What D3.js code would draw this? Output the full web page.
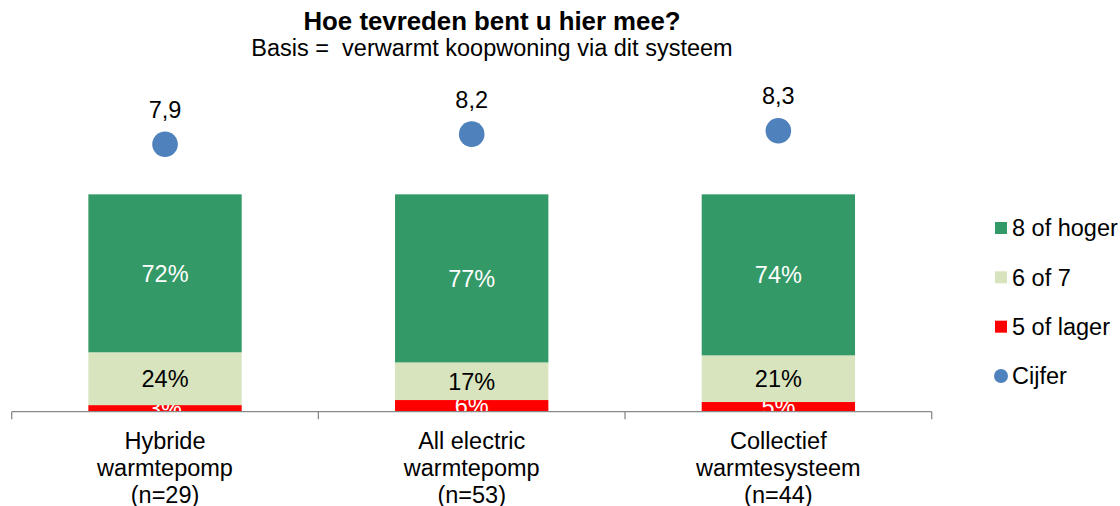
<!DOCTYPE html>
<html>
<head>
<meta charset="utf-8">
<script src="https://cdn.jsdelivr.net/npm/d3@7"></script>
<style>
  html, body { margin: 0; padding: 0; background: #ffffff; }
  svg { display: block; }
  text { font-family: "Liberation Sans", Arial, sans-serif; }
</style>
</head>
<body>
<svg id="chart" width="1120" height="506"></svg>
<script>
// ---- data ----
const categories = [
  ["Hybride", "warmtepomp", "(n=29)"],
  ["All electric", "warmtepomp", "(n=53)"],
  ["Collectief", "warmtesysteem", "(n=44)"]
];
const catKeys = ["hybride", "allelectric", "collectief"];
const seriesNames = ["5 of lager", "6 of 7", "8 of hoger"];
// segment values (%)
const lager5 = [3.0, 5.3, 4.4];
const zesZeven = [24.0, 17.1, 21.2];
const achtHoger = [71.8, 76.4, 73.2];
// printed data labels
const lager5Labels = ["3%", "6%", "5%"];
const zesZevenLabels = ["24%", "17%", "21%"];
const achtHogerLabels = ["72%", "77%", "74%"];
const cijfer = [7.9, 8.2, 8.3];
const cijferLabels = ["7,9", "8,2", "8,3"];
const legendLabels = ["8 of hoger", "6 of 7", "5 of lager", "Cijfer"];
const titleText = "Hoe tevreden bent u hier mee?";
const subtitleText = "Basis =  verwarmt koopwoning via dit systeem";

// ---- styles ----
const colors = { "5 of lager": "#ff0000", "6 of 7": "#d7e4bd", "8 of hoger": "#339966", "Cijfer": "#4f81bd" };
const labelColors = { "5 of lager": "#ffffff", "6 of 7": "#000000", "8 of hoger": "#ffffff" };
const labelSets = { "5 of lager": lager5Labels, "6 of 7": zesZevenLabels, "8 of hoger": achtHogerLabels };
const fs = 23.5;

const svg = d3.select("#chart");
const axisY = 411.7;

const x = d3.scaleBand().domain(catKeys).range([11.7, 931.7]).paddingInner(0).paddingOuter(0);
const y = d3.scaleLinear().domain([0, 100]).range([axisY, axisY - 220]);
const y2 = d3.scaleLinear().domain([0, 10]).range([axisY, axisY - 338.5]);

// title
svg.append("text").attr("x", 492).attr("y", 30).attr("text-anchor", "middle")
  .attr("font-size", 25.8).attr("font-weight", "bold").attr("fill", "#000").text(titleText);
svg.append("text").attr("x", 492).attr("y", 56).attr("text-anchor", "middle")
  .attr("font-size", fs).attr("fill", "#000").style("white-space", "pre").attr("xml:space", "preserve").text(subtitleText);

// stacked data
const rows = catKeys.map((k, i) => ({ key: k, idx: i, "5 of lager": lager5[i], "6 of 7": zesZeven[i], "8 of hoger": achtHoger[i] }));
const stack = d3.stack().keys(seriesNames)(rows);

const defs = svg.append("defs");
defs.append("clipPath").attr("id", "plotclip").append("rect")
  .attr("x", 0).attr("y", 0).attr("width", 1120).attr("height", axisY);

const bw = x.bandwidth() * 0.5;
const plot = svg.append("g").attr("clip-path", "url(#plotclip)");

stack.forEach(s => {
  const g = plot.append("g");
  g.selectAll("rect").data(s).join("rect")
    .attr("x", d => x(d.data.key) + (x.bandwidth() - bw) / 2)
    .attr("width", bw)
    .attr("y", d => y(d[1]))
    .attr("height", d => y(d[0]) - y(d[1]))
    .attr("fill", colors[s.key]);
  g.selectAll("text").data(s).join("text")
    .attr("x", d => x(d.data.key) + x.bandwidth() / 2)
    .attr("y", d => (y(d[0]) + y(d[1])) / 2 + 8.4)
    .attr("text-anchor", "middle")
    .attr("font-size", fs)
    .attr("fill", labelColors[s.key])
    .text(d => labelSets[s.key][d.data.idx]);
});

// axis
const axisG = svg.append("g").attr("transform", `translate(0,${axisY})`);
axisG.append("line").attr("x1", x.range()[0]).attr("x2", x.range()[1]).attr("y1", 0).attr("y2", 0)
  .attr("stroke", "#898989").attr("stroke-width", 1.3);
const tickPos = catKeys.map(k => x(k)).concat([x.range()[1]]);
axisG.selectAll("line.tick").data(tickPos).join("line").attr("class", "tick")
  .attr("x1", d => d).attr("x2", d => d).attr("y1", 0).attr("y2", 7.5)
  .attr("stroke", "#898989").attr("stroke-width", 1.3);

// category labels
catKeys.forEach((k, i) => {
  const t = svg.append("text").attr("text-anchor", "middle").attr("font-size", fs).attr("fill", "#000");
  categories[i].forEach((line, j) => {
    t.append("tspan").attr("x", x(k) + x.bandwidth() / 2).attr("y", 448.5 + j * 27).text(line);
  });
});

// cijfer dots
svg.append("g").selectAll("circle").data(cijfer).join("circle")
  .attr("cx", (d, i) => x(catKeys[i]) + x.bandwidth() / 2)
  .attr("cy", d => y2(d))
  .attr("r", 12.8)
  .attr("fill", colors["Cijfer"]);
svg.append("g").selectAll("text").data(cijfer).join("text")
  .attr("x", (d, i) => x(catKeys[i]) + x.bandwidth() / 2)
  .attr("y", d => y2(d) - 35 + 8.4)
  .attr("text-anchor", "middle").attr("font-size", fs).attr("fill", "#000")
  .text((d, i) => cijferLabels[i]);

// legend
const legendY = d3.scalePoint().domain(legendLabels).range([228, 376]);
const lg = svg.append("g");
legendLabels.forEach(name => {
  const cy = legendY(name);
  if (name === "Cijfer") {
    lg.append("circle").attr("cx", 1001).attr("cy", cy).attr("r", 7).attr("fill", colors[name]);
  } else {
    lg.append("rect").attr("x", 995).attr("y", cy - 6).attr("width", 12).attr("height", 12).attr("fill", colors[name]);
  }
  lg.append("text").attr("x", 1012).attr("y", cy + 8.4).attr("font-size", fs).attr("fill", "#000").text(name);
});
</script>
</body>
</html>
